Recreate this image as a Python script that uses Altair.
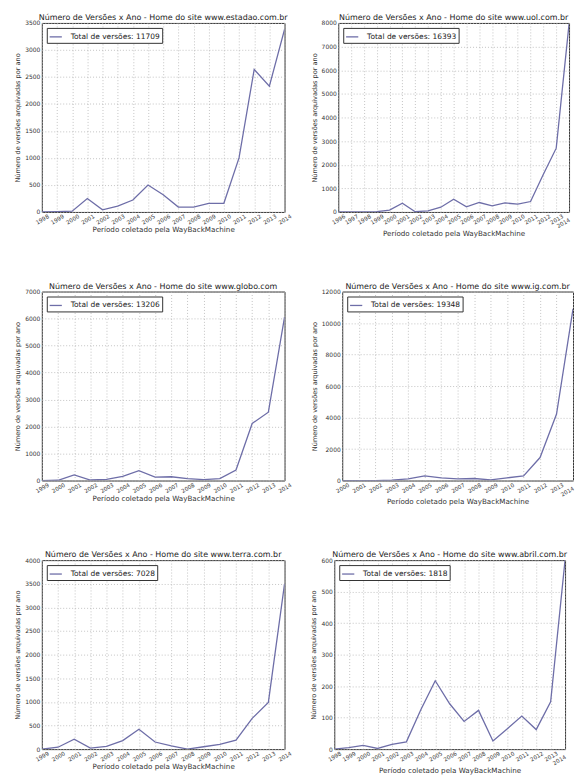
import altair as alt
import pandas as pd

LINE = "#6e6ea8"

sites = ["www.estadao.com.br", "www.uol.com.br", "www.globo.com",
         "www.ig.com.br", "www.terra.com.br", "www.abril.com.br"]
totals = [11709, 16393, 13206, 19348, 7028, 1818]

years_estadao = [1998, 1999, 2000, 2001, 2002, 2003, 2004, 2005, 2006, 2007, 2008, 2009, 2010, 2011, 2012, 2013, 2014]
vals_estadao = [0, 5, 15, 250, 40, 110, 220, 500, 320, 90, 90, 160, 160, 1000, 2640, 2330, 3380]

years_uol = [1996, 1997, 1998, 1999, 2000, 2001, 2002, 2003, 2004, 2005, 2006, 2007, 2008, 2009, 2010, 2011, 2012, 2013, 2014]
vals_uol = [0, 0, 0, 10, 80, 370, 10, 50, 200, 540, 220, 400, 260, 380, 330, 440, 1600, 2700, 7950]

years_globo = [1999, 2000, 2001, 2002, 2003, 2004, 2005, 2006, 2007, 2008, 2009, 2010, 2011, 2012, 2013, 2014]
vals_globo = [0, 10, 210, 20, 40, 150, 365, 130, 140, 70, 30, 70, 390, 2115, 2530, 6050]

years_ig = [2000, 2001, 2002, 2003, 2004, 2005, 2006, 2007, 2008, 2009, 2010, 2011, 2012, 2013, 2014]
vals_ig = [0, 0, 0, 20, 100, 300, 170, 100, 130, 40, 170, 290, 1460, 4220, 10900]

years_terra = [1999, 2000, 2001, 2002, 2003, 2004, 2005, 2006, 2007, 2008, 2009, 2010, 2011, 2012, 2013, 2014]
vals_terra = [0, 40, 210, 20, 60, 180, 420, 150, 70, 0, 50, 100, 190, 650, 990, 3500]

years_abril = [1998, 1999, 2000, 2001, 2002, 2003, 2004, 2005, 2006, 2007, 2008, 2009, 2010, 2011, 2012, 2013, 2014]
vals_abril = [0, 5, 12, 2, 15, 23, 125, 217, 144, 88, 123, 26, 65, 105, 62, 150, 600]

yticks_estadao = [0, 500, 1000, 1500, 2000, 2500, 3000, 3500]
yticks_uol = [0, 1000, 2000, 3000, 4000, 5000, 6000, 7000, 8000]
yticks_globo = [0, 1000, 2000, 3000, 4000, 5000, 6000, 7000]
yticks_ig = [0, 2000, 4000, 6000, 8000, 10000, 12000]
yticks_terra = [0, 500, 1000, 1500, 2000, 2500, 3000, 3500, 4000]
yticks_abril = [0, 100, 200, 300, 400, 500, 600]

all_years = [years_estadao, years_uol, years_globo, years_ig, years_terra, years_abril]
all_vals = [vals_estadao, vals_uol, vals_globo, vals_ig, vals_terra, vals_abril]
all_yticks = [yticks_estadao, yticks_uol, yticks_globo, yticks_ig, yticks_terra, yticks_abril]

FONT = "DejaVu Sans"
PLOT_H = 190


def panel(i):
    yrs = all_years[i]
    yt = all_yticks[i]
    width = 244 if i % 2 == 0 else 232
    df = pd.DataFrame({
        "ano": yrs,
        "versoes": all_vals[i],
        "serie": f"Total de versões: {totals[i]}",
    })
    last = yrs[-1]
    x_align = {"condition": {"test": f"datum.value == {last}", "value": "right"},
               "value": "center"} if i % 2 == 1 else "center"
    return alt.Chart(df).mark_line(color=LINE, strokeWidth=1.3, clip=True).encode(
        x=alt.X("ano:Q",
                scale=alt.Scale(domain=[yrs[0], yrs[-1]], nice=False, zero=False),
                axis=alt.Axis(values=yrs, format="d", labelAngle=-30,
                              labelAlign=x_align, labelBaseline="middle",
                              labelPadding=7, labelOverlap=False, labelFontSize=5.6,
                              title="Período coletado pela WayBackMachine",
                              titleFontSize=7.2, titlePadding=0)),
        y=alt.Y("versoes:Q",
                scale=alt.Scale(domain=[yt[0], yt[-1]], nice=False),
                axis=alt.Axis(values=yt, format="d", labelPadding=2, labelFontSize=6,
                              title="Número de versões arquivadas por ano",
                              titleFontSize=6.6, titlePadding=4)),
        color=alt.Color("serie:N", scale=alt.Scale(range=[LINE]),
                        legend=alt.Legend(title=None, orient="top-left", offset=5)),
    ).properties(
        width=width, height=PLOT_H,
        title=alt.TitleParams(f"Número de Versões x Ano - Home do site {sites[i]}",
                              fontSize=8, fontWeight="normal", font=FONT,
                              color="#222", offset=-2),
    )


rows = []
for r in range(3):
    rows.append(alt.hconcat(panel(2 * r), panel(2 * r + 1), spacing=17)
                .resolve_scale(color="independent", x="independent", y="independent")
                .resolve_legend(color="independent"))

chart = alt.vconcat(*rows, spacing=45).resolve_scale(
    color="independent", x="independent", y="independent"
).resolve_legend(color="independent").properties(
    padding={"left": 6, "top": 3, "right": 0, "bottom": 0},
    background="white",
).configure_view(
    stroke="#333", strokeWidth=1
).configure_axis(
    labelFont=FONT, titleFont=FONT,
    titleFontWeight="normal", labelColor="#333", titleColor="#333",
    domain=False, ticks=False,
    grid=True, gridColor="#b4b4b4", gridDash=[1, 2], gridWidth=0.8,
).configure_legend(
    labelFont=FONT, labelFontSize=7.5, labelColor="#222",
    symbolType="stroke", symbolSize=150, symbolStrokeWidth=1.3,
    strokeColor="#333", fillColor="white", padding=2, cornerRadius=0,
    labelOffset=8, rowPadding=0,
)

chart.save("out.html", embed_options={"renderer": "svg", "actions": False})
